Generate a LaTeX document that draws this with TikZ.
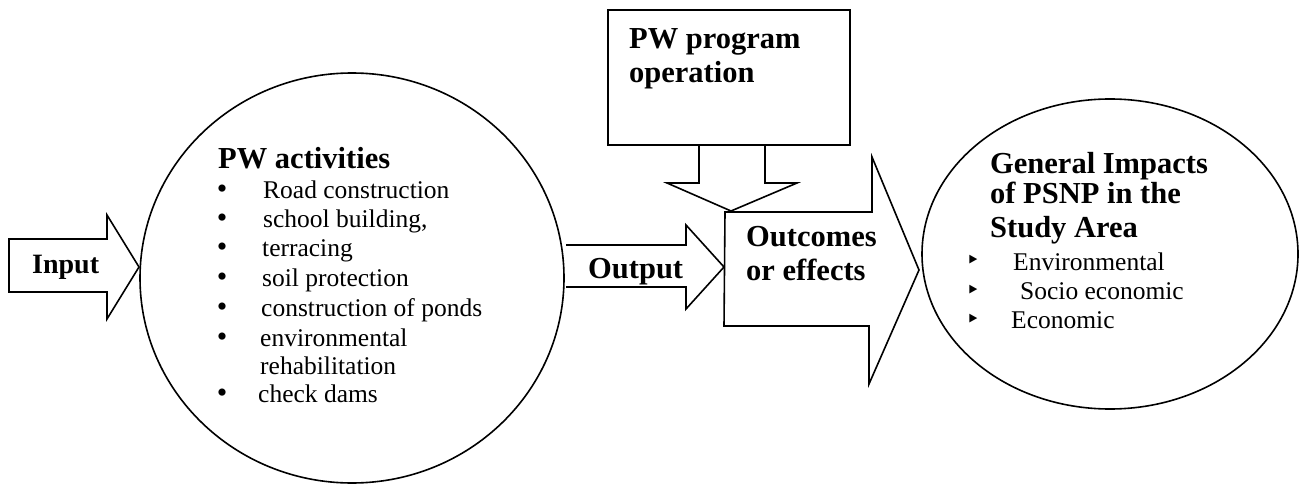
\documentclass[tikz,border=0pt]{standalone}
\usepackage{fontspec}
\setmainfont{Liberation Serif}
\newfontfamily\dejavu{DejaVu Sans}
\usetikzlibrary{shapes.geometric}
\begin{document}
\begin{tikzpicture}[x=1pt,y=-1pt,
  blk/.style={draw=black, line width=1.6pt, line join=miter},
  oval/.style={draw=black, line width=1.6pt, ellipse, inner sep=0pt},
  bt/.style={font=\fontsize{30.5}{33}\bfseries, inner sep=0pt, anchor=base west},
  rt/.style={font=\fontsize{25.5}{29}\selectfont, inner sep=0pt, anchor=base west},
  bul/.style={font=\fontsize{30}{29}\selectfont, inner sep=0pt, anchor=base},
  tri/.style={font=\dejavu\fontsize{24}{24}\selectfont, inner sep=0pt, anchor=base}]
\useasboundingbox (0,0) rectangle (1304,484);

% ellipses
\node[oval, minimum width=424pt, minimum height=410pt] (pwa) at (352,278) {};
\node[oval, minimum width=376pt, minimum height=310pt] (imp) at (1110,254) {};

% program operation box
\node[blk, rectangle, minimum width=242pt, minimum height=135pt, inner sep=0pt] (box) at (729,77.5) {};
\node[bt] (op1) at (629,49) {PW program};
\node[bt] (op2) at (629,83) {operation};

% input arrow
\draw[blk] (9,239) -- (107,239) -- (107,215) -- (139,267) -- (107,319) -- (107,292) -- (9,292) -- cycle;
\node[bt, font=\fontsize{28}{33}\bfseries] (input) at (32,273) {Input};

% output arrow
\draw[blk] (566,245) -- (686,245) -- (686,225) -- (724,267) -- (686,309) -- (686,287) -- (566,287);
\node[bt] (output) at (588,278) {Output};

% big outcomes arrow
\draw[blk] (725,212) -- (872,212) -- (872,157) -- (919,270) -- (869,384) -- (869,326) -- (724,326) -- cycle;
\node[bt] (out1) at (746,246) {Outcomes};
\node[bt] (out2) at (746,280) {or effects};

% down arrow from box
\draw[blk] (box.south -| 699,0) -- (699,183) -- (667,183) -- (731,211) -- (797,183) -- (765,183) -- (box.south -| 765,0);

% PW activities text
\node[bt] (pwt) at (218,168) {PW activities};
\foreach \n/\yy/\xx/\t in {a/198/263/Road construction,
                          b/227/263/{school building,},
                          c/256/262/terracing,
                          d/286/262/soil protection,
                          e/316/261/construction of ponds,
                          f/346/260/environmental,
                          h/402/258/check dams}{
  \node[bul] (b\n) at (222,\yy) {•};
  \node[rt] (t\n) at (\xx,\yy) {\t};
}
\node[rt] (tg) at (260,374) {rehabilitation};

% General impacts text
\node[bt] (g1) at (990,173) {General Impacts};
\node[bt] (g2) at (990,204) {of PSNP in the};
\node[bt] (g3) at (990,237) {Study Area};
\node[tri] (tb1) at (973,268) {‣};
\node[tri] (tb2) at (973,298) {‣};
\node[tri] (tb3) at (973,327) {‣};
\node[rt] (i1) at (1013,270) {Environmental};
\node[rt] (i2) at (1020,299) {Socio economic};
\node[rt] (i3) at (1011,328) {Economic};
\end{tikzpicture}
\end{document}
